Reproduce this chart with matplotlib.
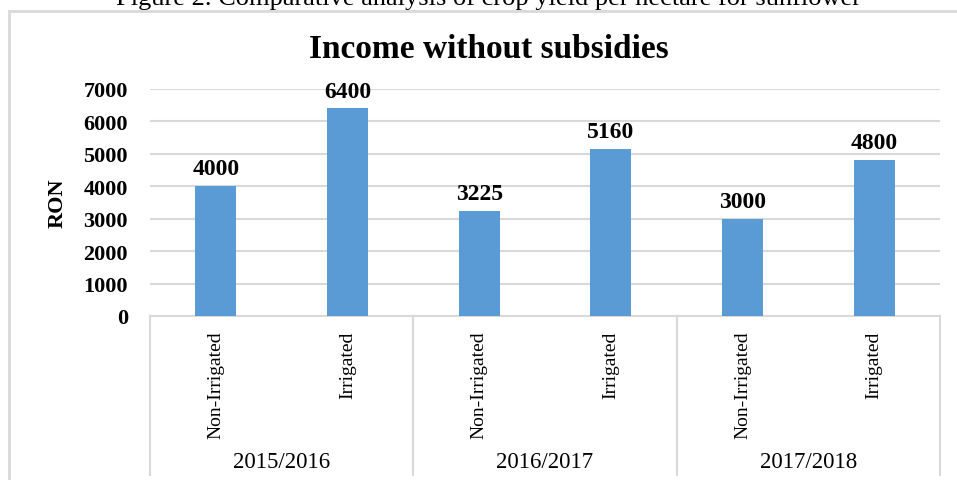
import matplotlib
matplotlib.use("Agg")
import matplotlib.pyplot as plt
from matplotlib.patches import Rectangle
from matplotlib.transforms import blended_transform_factory

# data
years = ["2015/2016", "2016/2017", "2017/2018"]
types = ["Non-Irrigated", "Irrigated"]
income = [4000, 6400, 3225, 5160, 3000, 4800]
y_ticks = [0, 1000, 2000, 3000, 4000, 5000, 6000, 7000]

serif = "Liberation Serif"
bar_color = "#5B9BD5"
grid_color = "#D9D9D9"

fig = plt.figure(figsize=(9.57, 4.81), dpi=100)
ax = fig.add_axes([150 / 957, 1 - 317 / 481, 790 / 957, 227 / 481])

x = list(range(len(income)))
ax.bar(x, income, width=0.31, color=bar_color, zorder=3)
ax.set_xlim(-0.5, len(income) - 0.5)
ax.set_ylim(0, 7000)

ax.set_yticks(y_ticks)
ax.set_yticklabels([str(v) for v in y_ticks], fontfamily=serif, fontweight="bold", fontsize=16)
ax.tick_params(axis="y", length=0, pad=16)
ax.set_xticks([])
ax.grid(axis="y", color=grid_color, linewidth=1.5, zorder=0)
for s in ["top", "right", "left"]:
    ax.spines[s].set_visible(False)
ax.spines["bottom"].set_color(grid_color)
ax.spines["bottom"].set_linewidth(1.5)

ax.set_ylabel("RON", fontfamily=serif, fontweight="bold", fontsize=16, labelpad=11)

# value labels
for xi, v in zip(x, income):
    ax.annotate(str(v), (xi, v), xytext=(0, 5), textcoords="offset points",
                ha="center", va="bottom", fontfamily=serif, fontweight="bold", fontsize=17)

# two-level category axis
tr = blended_transform_factory(ax.transData, ax.transAxes)
for i, xi in enumerate(x):
    ax.text(xi, -0.065, types[i % 2], transform=tr, rotation=90, ha="center", va="top",
            fontfamily=serif, fontsize=14)
for g, year in enumerate(years):
    ax.text(2 * g + 0.5, -0.64, year, transform=tr, ha="center", va="center",
            fontfamily=serif, fontsize=16.5)
for g in range(len(years) + 1):
    ax.plot([2 * g - 0.5, 2 * g - 0.5], [0, -0.70], transform=tr, color=grid_color,
            linewidth=1.5, clip_on=False)

# title sits over the whole chart area, not the plot box
fig.text(489 / 957, 1 - 58 / 481, "Income without subsidies", ha="center", va="baseline",
         fontfamily=serif, fontweight="bold", fontsize=24)

# outer chart border and cut-off caption
fig.patches.append(Rectangle((9 / 957, -0.1), 1.2, 1 - 12 / 481 + 0.1, transform=fig.transFigure,
                             fill=False, edgecolor=grid_color, linewidth=2))
fig.text(488 / 957, 1 - 5 / 481, "Figure 2. Comparative analysis of crop yield per hectare for sunflower",
         ha="center", va="baseline", fontfamily=serif, fontsize=19)

fig.savefig("out.png", dpi=100)
